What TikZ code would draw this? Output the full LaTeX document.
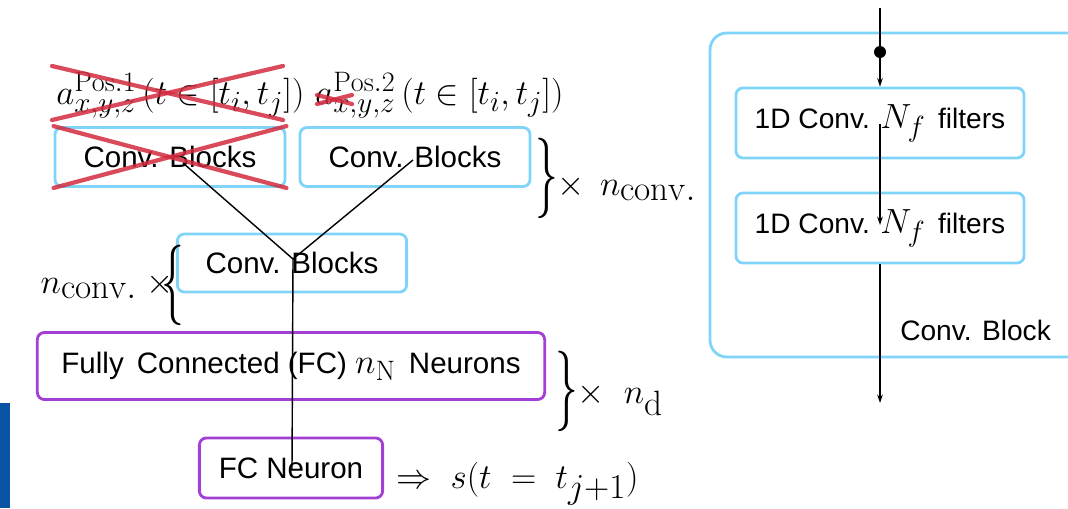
\documentclass[tikz,border=0pt]{standalone}
\usepackage{amsmath}
\usepackage{graphicx}
\usepackage{fontspec}
\setsansfont{Liberation Sans}
\usetikzlibrary{arrows.meta,positioning}

% roomy sub- and superscripts for the large formulas
\DeclareMathSizes{30}{30}{25}{18}
\DeclareMathSizes{26}{26}{20}{15}

\definecolor{convblue}{HTML}{7FD4F8}
\definecolor{fcpurple}{HTML}{A43FD6}
\definecolor{crossred}{HTML}{D22A3E}
\definecolor{barblue}{HTML}{0A52A3}

\tikzset{
  convbox/.style={draw=convblue, line width=2pt, rounded corners=5pt, inner sep=0pt,
    font=\sffamily\fontsize{21}{25}\selectfont},
  fcbox/.style={convbox, draw=fcpurple},
  filterbox/.style={convbox, minimum width=7.2cm, minimum height=1.75cm,
    font=\sffamily\fontsize{20}{24}\selectfont},
  bigmath/.style={inner sep=0pt, font=\fontsize{30}{34}\selectfont},
  inmath/.style={inner sep=0pt, font=\fontsize{26}{30}\selectfont},
  strike/.style={crossred, line width=3pt, opacity=0.85, line cap=round},
  link/.style={line width=1pt},
  flow/.style={line width=1pt, -{Stealth[length=6pt,width=4pt]}},
}
\newcommand{\tallbrace}[1]{\scalebox{1.3}[2.3]{$#1$}}
\newcommand{\boxmath}[1]{{\fontsize{26}{28}\selectfont$#1$}}

\begin{document}
\begin{tikzpicture}[x=0.025cm, y=-0.025cm]
  \useasboundingbox (0,0) rectangle (1068,508);

  % network on the left
  \node[inmath, anchor=base west] (inA) at (56,104) {$a^{\mathrm{Pos.1}}_{x,y,z}\,(t\in[t_i,t_j])$};
  \node[inmath, anchor=base west] (inB) at (315,104) {$a^{\mathrm{Pos.2}}_{x,y,z}\,(t\in[t_i,t_j])$};

  \node[convbox, minimum width=5.75cm, minimum height=1.475cm] (convA) at (170,157) {Conv. Blocks};
  \node[convbox, minimum width=5.75cm, minimum height=1.475cm] (convB) at (415,157) {Conv. Blocks};
  \node[convbox, minimum width=5.73cm, minimum height=1.45cm] (convC) at (292,263) {Conv. Blocks};
  \node[fcbox, minimum width=12.68cm, minimum height=1.675cm] (fcN) at (291,366)
    {Fully \,Connected (FC) \boxmath{n_{\mathrm{N}}} \,Neurons};
  \node[fcbox, minimum width=4.58cm, minimum height=1.5cm] (fcOut) at (291,468) {FC Neuron};

  % crossed out branch
  \draw[strike] (52,66) -- (283,120);
  \draw[strike] (52,120) -- (283,66);
  \draw[strike] (317,95) -- (352,104);
  \draw[strike] (317,104) -- (352,95);
  \draw[strike] (convA.north west) -- (convA.south east);
  \draw[strike] (convA.south west) -- (convA.north east);

  % repetition braces
  \node[bigmath] (braceA) at (547,178) {\tallbrace{\}}};
  \node[bigmath, anchor=base west] (repA) at (557,195) {$\times\;\,n_{\mathrm{conv.}}$};
  \node[bigmath] (braceC) at (173,285) {\tallbrace{\{}};
  \node[bigmath, anchor=base east] (repC) at (174,293) {$n_{\mathrm{conv.}}\;\times$};
  \node[bigmath] (braceN) at (567,391) {\tallbrace{\}}};
  \node[bigmath, anchor=base west] (repN) at (577,403) {$\times\;\;n_{\mathrm{d}}$};
  \node[bigmath, anchor=base west] (res) at (396,488) {$\Rightarrow\;s(t\;=\;t_{j+1})$};

  \coordinate (srcA) at (183,163);
  \coordinate (srcB) at (413,160);
  \coordinate (join) at (293,259);
  \coordinate (sink) at (292,470);
  \draw[link] (srcA) -- (join) -- (sink);
  \draw[link] (srcB) -- (join);

  \fill[barblue] (0,403) rectangle (10,508);

  % one conv. block in detail
  \draw[convblue, line width=2pt, rounded corners=12pt] (1080,33) -- (710,33) -- (710,357) -- (1080,357);
  \node[filterbox] (filt1) at (880,123) {1D Conv. \boxmath{N_f} \,filters};
  \node[filterbox] (filt2) at (880,228) {1D Conv. \boxmath{N_f} \,filters};
  \node[font=\sffamily\fontsize{20}{24}\selectfont, anchor=base west, inner sep=0pt] (blk) at (900,340) {Conv. Block};

  \coordinate (in) at (880,8);
  \coordinate (tap) at (880,52);
  \coordinate (midA) at (880,124);
  \coordinate (midB) at (880,225);
  \coordinate (out) at (880,403);
  \draw[flow] (in) -- (filt1.north);
  \fill (tap) circle (6);
  \draw[flow] (midA) -- (midB);
  \draw[flow] (filt2.south) -- (out);
\end{tikzpicture}
\end{document}
